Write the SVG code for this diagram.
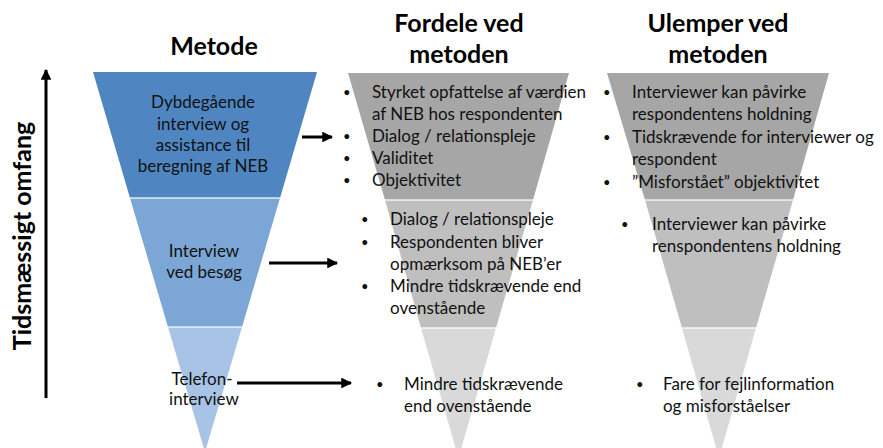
<svg xmlns="http://www.w3.org/2000/svg" width="883" height="448" viewBox="0 0 883 448">
  <defs>
    <marker id="head" viewBox="0 0 10 10" refX="9" refY="5" markerWidth="3.6" markerHeight="3.6" orient="auto" markerUnits="strokeWidth">
      <path d="M0,0 L10,5 L0,10 z" fill="#000"/>
    </marker>
    <style>
      .title { font-family: Lato, "Liberation Sans", sans-serif; font-weight: bold; font-size: 25px; fill: #000; text-anchor: middle; }
      .body { font-family: Lato, "Liberation Sans", sans-serif; font-size: 17px; fill: #111; }
      .dot { font-family: Lato, "Liberation Sans", sans-serif; font-size: 13px; fill: #111; }
      .mid { text-anchor: middle; }
      .sep { stroke: #fff; stroke-width: 1.5; opacity: 0.8; }
      .conn { stroke: #000; stroke-width: 3; fill: none; }
      .b1 { fill: #4f86c1; }
      .b2 { fill: #7ba6d5; }
      .b3 { fill: #a7c3e6; }
      .g1 { fill: #a6a6a6; }
      .g2 { fill: #bfbfbf; }
      .g3 { fill: #d9d9d9; }
    </style>
  </defs>

  <rect width="883" height="448" fill="#fff"/>

  <!-- column headings -->
  <text class="title" x="214" y="55">Metode</text>
  <text class="title" x="459" y="32">Fordele ved</text>
  <text class="title" x="459" y="63">metoden</text>
  <text class="title" x="718" y="32">Ulemper ved</text>
  <text class="title" x="718" y="63">metoden</text>

  <!-- time axis -->
  <g id="axis">
    <line class="conn" x1="46" y1="398" x2="46" y2="70" marker-end="url(#head)"/>
    <text class="title" transform="translate(31,236) rotate(-90)">Tidsmæssigt omfang</text>
  </g>

  <!-- method funnel -->
  <g id="method-deep">
    <polygon class="b1" points="93,72 317,72 280,198 130,198"/>
    <text class="body mid" x="203" y="108">Dybdegående</text>
    <text class="body mid" x="203" y="130">interview og</text>
    <text class="body mid" x="203" y="151">assistance til</text>
    <text class="body mid" x="203" y="172">beregning af NEB</text>
  </g>
  <g id="method-visit">
    <polygon class="b2" points="130,198 280,198 242,327 168,327"/>
    <text class="body mid" x="204" y="257">Interview</text>
    <text class="body mid" x="204" y="278">ved besøg</text>
  </g>
  <g id="method-phone">
    <polygon class="b3" points="168,327 242,327 205,452"/>
    <text class="body mid" x="202" y="385">Telefon-</text>
    <text class="body mid" x="204" y="405">interview</text>
  </g>
  <line class="sep" x1="130" y1="198" x2="280" y2="198"/>
  <line class="sep" x1="168" y1="327" x2="242" y2="327"/>

  <!-- advantages funnel -->
  <g id="pros-deep">
    <polygon class="g1" points="348,73 569,73 533,200 385,200"/>
    <text class="dot" x="343" y="97">•</text>
    <text class="body" x="372" y="98">Styrket opfattelse af værdien</text>
    <text class="body" x="372" y="120">af NEB hos respondenten</text>
    <text class="dot" x="343" y="141">•</text>
    <text class="body" x="372" y="142">Dialog / relationspleje</text>
    <text class="dot" x="343" y="163">•</text>
    <text class="body" x="372" y="164">Validitet</text>
    <text class="dot" x="343" y="185">•</text>
    <text class="body" x="372" y="186">Objektivitet</text>
  </g>
  <g id="pros-visit">
    <polygon class="g2" points="385,200 533,200 496,328 421,328"/>
    <text class="dot" x="361" y="224">•</text>
    <text class="body" x="390" y="225">Dialog / relationspleje</text>
    <text class="dot" x="361" y="247">•</text>
    <text class="body" x="390" y="248">Respondenten bliver</text>
    <text class="body" x="390" y="270">opmærksom på NEB’er</text>
    <text class="dot" x="361" y="291">•</text>
    <text class="body" x="390" y="292">Mindre tidskrævende end</text>
    <text class="body" x="390" y="314">ovenstående</text>
  </g>
  <g id="pros-phone">
    <polygon class="g3" points="421,328 496,328 458.5,458"/>
    <text class="dot" x="376" y="389">•</text>
    <text class="body" x="404" y="390">Mindre tidskrævende</text>
    <text class="body" x="404" y="412">end ovenstående</text>
  </g>
  <line class="sep" x1="385" y1="200" x2="533" y2="200"/>
  <line class="sep" x1="421" y1="328" x2="496" y2="328"/>

  <!-- disadvantages funnel -->
  <g id="cons-deep">
    <polygon class="g1" points="607,73 829,73 793,200 645,200"/>
    <text class="dot" x="603" y="97">•</text>
    <text class="body" x="632" y="98">Interviewer kan påvirke</text>
    <text class="body" x="632" y="120">respondentens holdning</text>
    <text class="dot" x="603" y="142">•</text>
    <text class="body" x="632" y="143">Tidskrævende for interviewer og</text>
    <text class="body" x="632" y="165">respondent</text>
    <text class="dot" x="603" y="187">•</text>
    <text class="body" x="632" y="188">”Misforstået” objektivitet</text>
  </g>
  <g id="cons-visit">
    <polygon class="g2" points="645,200 793,200 756,328 682,328"/>
    <text class="dot" x="621" y="229">•</text>
    <text class="body" x="652" y="230">Interviewer kan påvirke</text>
    <text class="body" x="652" y="252">renspondentens holdning</text>
  </g>
  <g id="cons-phone">
    <polygon class="g3" points="682,328 756,328 719,458"/>
    <text class="dot" x="636" y="389">•</text>
    <text class="body" x="663" y="390">Fare for fejlinformation</text>
    <text class="body" x="663" y="412">og misforståelser</text>
  </g>
  <line class="sep" x1="645" y1="200" x2="793" y2="200"/>
  <line class="sep" x1="682" y1="328" x2="756" y2="328"/>

  <!-- connectors from method to advantages -->
  <g id="connectors">
    <line class="conn" x1="302" y1="137" x2="332" y2="137" marker-end="url(#head)"/>
    <line class="conn" x1="269" y1="263" x2="337" y2="263" marker-end="url(#head)"/>
    <line class="conn" x1="237" y1="383" x2="351" y2="383" marker-end="url(#head)"/>
  </g>
</svg>
